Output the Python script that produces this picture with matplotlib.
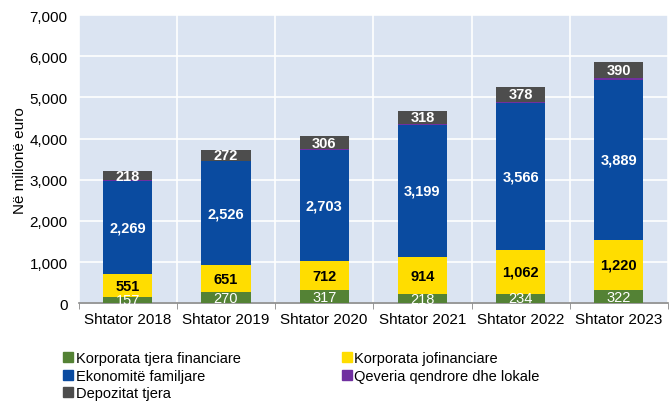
import numpy as np
import matplotlib.pyplot as plt
from matplotlib.lines import Line2D

plt.rcParams['font.family'] = ['Liberation Sans', 'DejaVu Sans']

kategorite = ["Shtator 2018", "Shtator 2019", "Shtator 2020", "Shtator 2021", "Shtator 2022", "Shtator 2023"]
financiare = [157, 270, 317, 218, 234, 322]
jofinanciare = [551, 651, 712, 914, 1062, 1220]
familjare = [2269, 2526, 2703, 3199, 3566, 3889]
qeveria = [15, 15, 20, 25, 25, 30]
tjera = [218, 272, 306, 318, 378, 390]

seri = [
    ("Korporata tjera financiare", financiare, "#548235", "white", "normal"),
    ("Korporata jofinanciare", jofinanciare, "#ffdd00", "black", "bold"),
    ("Ekonomitë familjare", familjare, "#0a4ba0", "white", "bold"),
    ("Qeveria qendrore dhe lokale", qeveria, "#7030a0", None, None),
    ("Depozitat tjera", tjera, "#4d4d4d", "white", "bold"),
]

fig = plt.figure(figsize=(6.72, 4.02), dpi=100)
ax = fig.add_axes([0.117, 0.243, 0.877, 0.717])
ax.set_facecolor("#dbe4f2")

x = np.arange(len(kategorite))
baza = np.zeros(len(kategorite))
for emri, vlerat, ngjyra, tc, fw in seri:
    v = np.array(vlerat, dtype=float)
    ax.bar(x, v, 0.5, bottom=baza, color=ngjyra, zorder=3, label=emri)
    if tc is not None:
        for xi, b, h in zip(x, baza, v):
            ax.text(xi, b + h / 2, f"{int(h):,}", ha="center", va="center",
                    color=tc, fontsize=10.5, fontweight=fw, zorder=4)
    baza += v

ax.set_xlim(-0.5, len(kategorite) - 0.5)
ax.set_ylim(0, 7000)
ax.set_yticks(np.arange(0, 7001, 1000))
ax.yaxis.set_major_formatter(plt.FuncFormatter(lambda v, p: f"{int(v):,}"))
ax.set_xticks(x)
ax.set_xticklabels(kategorite)
ax.set_xticks(np.arange(-0.5, len(kategorite)), minor=True)
ax.grid(True, which="major", axis="y", color="white", lw=1.2, zorder=1)
ax.grid(True, which="minor", axis="x", color="white", lw=1.2, zorder=1)
ax.tick_params(axis="x", which="major", length=0, labelsize=11, pad=6)
ax.tick_params(axis="x", which="minor", length=4, color="#888888", direction="out")
ax.tick_params(axis="y", length=0, labelsize=11, pad=8)
for s in ["top", "right", "left"]:
    ax.spines[s].set_visible(False)
ax.spines["bottom"].set_color("#888888")
ax.spines["bottom"].set_linewidth(1.2)

fig.text(0.03, 0.6, "Në milionë euro", rotation=90, ha="center", va="center", fontsize=11)

handles = [Line2D([], [], marker="s", ls="", color=s[2], markersize=7) for s in seri]
labels = [s[0] for s in seri]
order = [0, 2, 4, 1, 3]
fig.legend([handles[i] for i in order], [labels[i] for i in order], ncol=2,
           loc="upper left", bbox_to_anchor=(0.08, 0.142), frameon=False,
           fontsize=10.5, handletextpad=0.0, labelspacing=0.25, columnspacing=6.8,
           handlelength=1.0, borderpad=0)

fig.savefig("out.png", dpi=100)
